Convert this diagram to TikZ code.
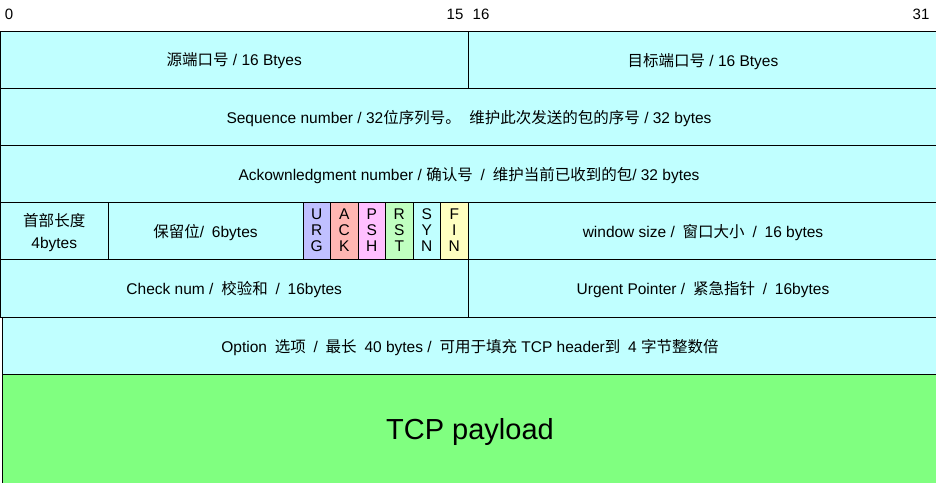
\documentclass[tikz,border=0pt]{standalone}
\usepackage{fontspec}
\setmainfont{Liberation Sans}
\newfontfamily\zh{Noto Sans CJK SC}
\newcommand\zgap{\hspace{3.5pt}}
\usetikzlibrary{positioning}
\definecolor{hdrcyan}{RGB}{192,255,255}
\definecolor{payloadgreen}{RGB}{128,255,128}
\definecolor{flagurg}{RGB}{192,192,255}
\definecolor{flagack}{RGB}{255,182,178}
\definecolor{flagpsh}{RGB}{255,192,255}
\definecolor{flagrst}{RGB}{192,255,192}
\definecolor{flagsyn}{RGB}{192,255,255}
\definecolor{flagfin}{RGB}{255,255,192}

\tikzset{
  field/.style={draw, line width=0.8pt, fill=hdrcyan, anchor=north west,
    inner sep=0pt, outer sep=0pt, minimum height=57pt, align=center,
    text depth=0pt, font=\fontsize{15.5}{16}\selectfont},
  flagbox/.style={field, minimum width=27.5pt},
  bitnum/.style={font=\fontsize{15}{16}\selectfont, inner sep=0pt}
}

\begin{document}
\begin{tikzpicture}[x=1pt, y=-1pt]
\useasboundingbox (0,0) rectangle (936,482);
% bit positions
\node[bitnum] (b0) at (9,14) {0};
\node[bitnum] (b15) at (455,14) {15};
\node[bitnum] (b16) at (481,14) {16};
\node[bitnum] (b31) at (921,14) {31};
% ports
\node[field, minimum width=467.5pt] (srcport) at (0.5,31)
  {{\zh 源端口号} / 16 Btyes};
\node[field, minimum width=470pt] (dstport) at (468,31)
  {{\zh 目标端口号} / 16 Btyes};
% seq / ack
\node[field, minimum width=937pt] (seqnum) at (0.5,88)
  {Sequence number / 32{\zh 位序列号。}\ \ {\zh 维护此次发送的包的序号} / 32 bytes};
\node[field, minimum width=937pt] (acknum) at (0.5,145)
  {Ackownledgment number / {\zh 确认号}\zgap{} /\zgap{} {\zh 维护当前已收到的包}/ 32 bytes};
% header length, reserved, flags, window
\node[field, minimum width=107.5pt, font=\fontsize{15.5}{22}\selectfont]
  (hdrlen) at (0.5,202) {{\zh 首部长度}\\4bytes};
\node[field, minimum width=195pt] (reserved) at (108,202)
  {{\zh 保留位}/\zgap{} 6bytes};
\foreach \name/\txt/\col [count=\i from 0] in {urg/U\\R\\G/flagurg,
    ack/A\\C\\K/flagack, psh/P\\S\\H/flagpsh, rst/R\\S\\T/flagrst,
    syn/S\\Y\\N/flagsyn, fin/F\\I\\N/flagfin}
  \node[flagbox, fill=\col] (\name) at (303+27.5*\i,202) {\txt};
\node[field, minimum width=470pt] (window) at (468,202)
  {window size /\zgap{} {\zh 窗口大小}\zgap{} /\zgap{} 16 bytes};
% checksum / urgent pointer
\node[field, minimum width=467.5pt, minimum height=58pt] (checksum) at (0.5,259)
  {Check num /\zgap{} {\zh 校验和}\zgap{} /\zgap{} 16bytes};
\node[field, minimum width=470pt, minimum height=58pt] (urgptr) at (468,259)
  {Urgent Pointer /\zgap{} {\zh 紧急指针}\zgap{} /\zgap{} 16bytes};
% options
\node[field, minimum width=936pt] (options) at (2,317)
  {Option\zgap{} {\zh 选项}\zgap{} /\zgap{} {\zh 最长}\zgap{} 40 bytes /\zgap{} {\zh 可用于填充} TCP header{\zh 到}\zgap{} 4 {\zh 字节整数倍}};
% payload
\node[field, fill=payloadgreen, minimum width=936pt, minimum height=110pt,
  font=\fontsize{29}{32}\selectfont] (payload) at (2,374) {TCP payload};
\end{tikzpicture}
\end{document}
